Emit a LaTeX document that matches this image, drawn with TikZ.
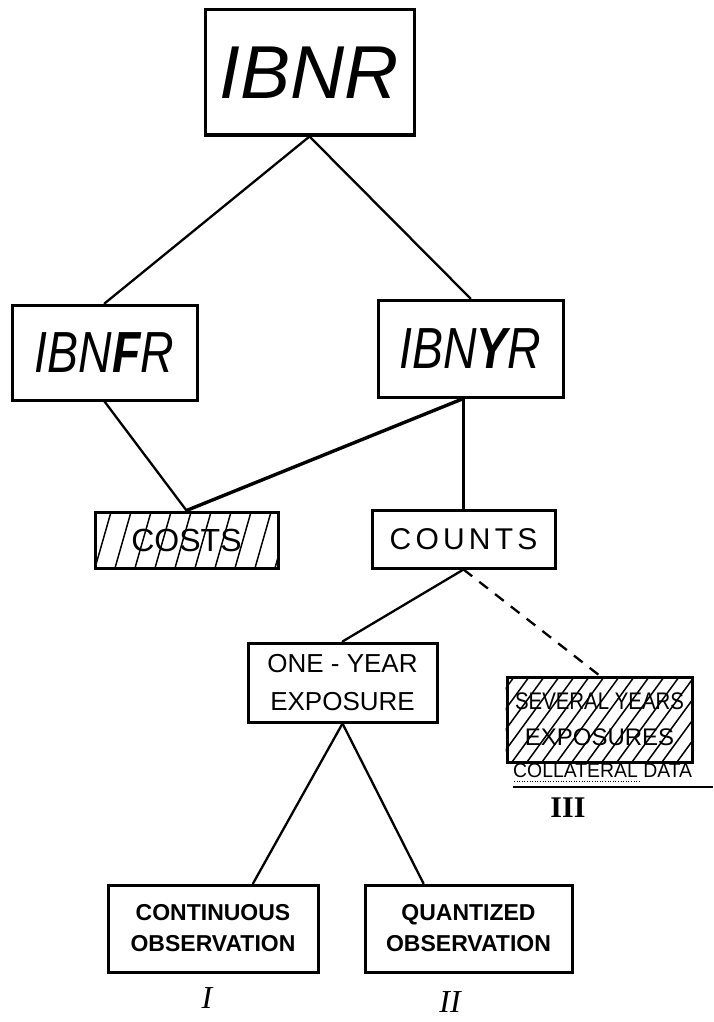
\documentclass[tikz,border=0pt]{standalone}
\usepackage{fontspec}
\usepackage{graphicx}
\usetikzlibrary{calc}
\setmainfont{Liberation Sans}
\newfontfamily\handsp[LetterSpace=14]{Liberation Sans}
\newfontfamily\romfont{Liberation Serif}
\newcommand\sqz[2]{\scalebox{#1}[1]{#2}}
\begin{document}
\begin{tikzpicture}[x=1pt,y=-1pt,
  box/.style={draw, line width=3pt, inner sep=0pt, align=center},
  conn/.style={line width=2.3pt, line cap=round},
  hatch/.style={line width=1.5pt},
  lbl/.style={inner sep=0pt}]
\useasboundingbox (0,0) rectangle (713,1022);

% boxes
\node[box, minimum width=209pt, minimum height=125pt, font=\fontsize{75}{75}\selectfont\itshape] (ibnr) at (309.5,72.5)
  {IBNR};
\node[box, minimum width=185pt, minimum height=95pt, font=\fontsize{58}{58}\selectfont] (ibnfr) at (104.5,352.5)
  {\sqz{0.8}{\itshape IBN\textbf{F}R}};
\node[box, minimum width=185pt, minimum height=97pt, font=\fontsize{58}{58}\selectfont] (ibnyr) at (470.5,348.5)
  {\sqz{0.8}{\itshape IBN\textbf{Y}R}};
\node[box, minimum width=183pt, minimum height=56pt] (costs) at (186.5,540) {};
\node[box, minimum width=183pt, minimum height=58pt, font=\fontsize{30}{30}\selectfont\handsp] (counts) at (463.5,539)
  {COUNTS};
\node[box, minimum width=189pt, minimum height=79pt, font=\fontsize{26}{38}\selectfont] (oneyear) at (342.5,682.5)
  {ONE - YEAR\\EXPOSURE};
\node[box, minimum width=185pt, minimum height=85pt] (several) at (599.5,719.5) {};
\node[box, minimum width=210pt, minimum height=87pt, font=\fontsize{23}{31}\selectfont\bfseries] (cont) at (213,928.5)
  {CONTINUOUS\\OBSERVATION};
\node[box, minimum width=207pt, minimum height=87pt, font=\fontsize{23}{31}\selectfont\bfseries] (quant) at (468.5,928.5)
  {QUANTIZED\\OBSERVATION};

% hatching of COSTS
\begin{scope}
  \clip (costs.south west) rectangle (costs.north east);
  \foreach \x in {-20,0,...,200}
    \draw[hatch] (95+\x,568) -- (95+\x+16,512);
\end{scope}
\node[lbl, font=\fontsize{32}{32}\selectfont] (coststxt) at (costs.center) {COSTS};

% hatching of SEVERAL YEARS
\begin{scope}
  \clip (several.south west) rectangle (several.north east);
  \foreach \x in {-70,-55,...,200}
    \draw[hatch] (507+\x,762) -- (507+\x+62,677);
\end{scope}
\node[lbl, align=center, font=\fontsize{24}{36}\selectfont] (sevtxt) at (several.center)
  {\sqz{0.85}{SEVERAL YEARS}\\EXPOSURES};

% collateral data
\node[lbl, anchor=west, font=\fontsize{20}{20}\selectfont] (coll) at (513,771)
  {\sqz{0.97}{COLLATERAL DATA}};
\draw[line width=0.6pt, dotted] (514,781) -- (640,781);
\draw[line width=2pt] (coll.south west |- 0,787) -- (713,787);

% numerals
\node[lbl, font=\romfont\fontsize{30}{30}\selectfont\bfseries] (n3) at (568,808) {III};
\node[lbl, font=\romfont\fontsize{32}{32}\selectfont\itshape] (n1) at (207,998) {I};
\node[lbl, font=\romfont\fontsize{32}{32}\selectfont\itshape] (n2) at (450,1002) {II};

% connectors
\draw[conn] (ibnr.south) -- (ibnfr.north);
\draw[conn] (ibnr.south) -- (ibnyr.north);
\draw[conn] (ibnfr.south) -- (costs.north);
\draw[conn, line width=3.4pt] (counts.north |- ibnyr.south) -- (costs.north);
\draw[conn] (counts.north |- ibnyr.south) -- (counts.north);
\draw[conn] (counts.south) -- (oneyear.north);
\draw[conn, line cap=butt, dash pattern=on 11pt off 9pt] (counts.south) -- (several.north);
\draw[conn] (oneyear.south) -- ($(cont.north)+(40,0)$);
\draw[conn] (oneyear.south) -- ($(quant.north)+(-45,0)$);
\end{tikzpicture}
\end{document}
